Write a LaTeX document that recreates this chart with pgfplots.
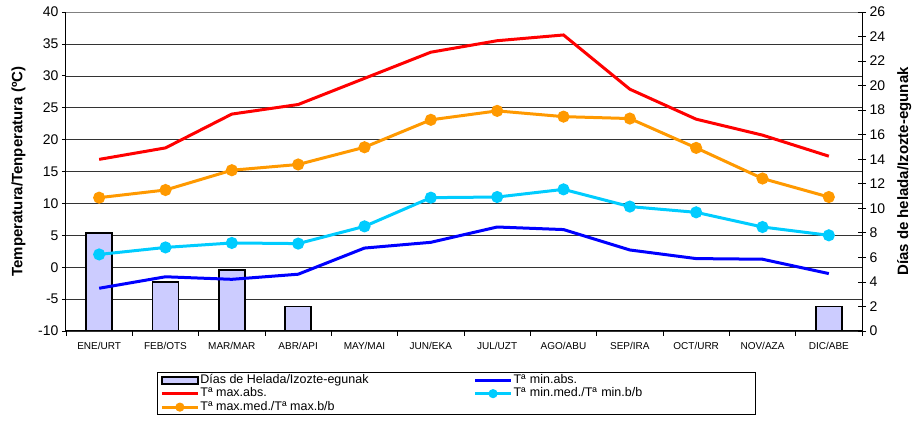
\documentclass[border=0pt]{standalone}
\usepackage{fontspec}
\setmainfont{Liberation Sans}
\usepackage{pgfplots}
\pgfplotsset{compat=1.18}

\definecolor{barfill}{HTML}{CCCCFF}
\definecolor{cmaxabs}{HTML}{FF0000}
\definecolor{cmaxmed}{HTML}{FF9900}
\definecolor{cminmed}{HTML}{00CCFF}
\definecolor{cminabs}{HTML}{0000FF}

\begin{document}
\begin{tikzpicture}
\useasboundingbox (-66pt,-92pt) rectangle (848pt,331pt);
\pgfplotsset{
  base/.style={
    scale only axis, width=796pt, height=319pt,
    at={(0,0)}, anchor=south west,
    xmin=-0.5, xmax=11.5,
    /pgf/number format/assume math mode=true,
    axis line style={-, line width=1pt},
    tick style={black, line width=0.8pt},
    tick label style={font=\fontsize{14}{15}\selectfont},
    label style={font=\bfseries\fontsize{15}{16}\selectfont},
  },
  lin/.style={line width=3pt, mark=*, mark size=4.5pt, mark options={solid}},
}

% grid, left axis, month labels
\begin{axis}[base,
  ymin=-10, ymax=40, ytick={-10,-5,...,40},
  axis y line*=left, axis x line*=bottom,
  ymajorgrids, grid style={black!80, line width=0.6pt},
  tick align=outside, major tick length=4pt,
  xtick={0,...,11},
  xticklabels={ENE/URT,FEB/OTS,MAR/MAR,ABR/API,MAY/MAI,JUN/EKA,JUL/UZT,AGO/ABU,SEP/IRA,OCT/URR,NOV/AZA,DIC/ABE},
  x tick label style={font=\fontsize{10}{11}\selectfont, yshift=-4pt},
  major x tick style={draw=none},
  minor xtick={-0.5,0.5,...,11.5}, minor tick length=5pt,
  ylabel={Temperatura/Tenperatura (ºC)},
  y label style={at={(axis description cs:-0.0597,0.5)}, anchor=center},
]
\addplot[draw=none] coordinates {(0,0)};
\draw[gray, line width=1pt] (rel axis cs:0,1) -- (rel axis cs:1,1);
\end{axis}

% frost days, right axis
\begin{axis}[base,
  ymin=0, ymax=26, ytick={0,2,...,26},
  axis y line*=right, axis x line=none,
  tick align=center, major tick length=8pt,
  ylabel={Días de helada/Izozte-egunak},
  y label style={at={(axis description cs:1.053,0.5)}, anchor=center},
]
\addplot[ybar, bar width=26pt, fill=barfill, draw=black, line width=1.8pt,
  y filter/.expression={y==0 ? nan : y}]
coordinates {(0,8) (1,4) (2,5) (3,2) (4,0) (5,0) (6,0) (7,0) (8,0) (9,0) (10,0) (11,2)};
\end{axis}

% temperatures
\begin{axis}[base,
  ymin=-10, ymax=40, hide axis,
  legend columns=2,
  legend cell align=left,
  legend style={at={(axis description cs:0.1143,-0.1285)}, anchor=north west,
    draw=black, line width=0.8pt, font=\fontsize{12.5}{13}\selectfont,
    inner xsep=3pt, inner ysep=1pt,
    nodes={inner sep=1pt, text height=9pt, text depth=2.5pt},
    /tikz/column 2/.style={column sep=104pt},
    /tikz/column 4/.style={nodes={text width=238pt}}},
  legend image code/.code={\draw[mark repeat=2, mark phase=2, #1, mark size=3pt]
    plot coordinates {(0pt,0pt) (18pt,0pt) (36pt,0pt)};},
]
\addlegendimage{legend image code/.code={\draw[fill=barfill, draw=black, line width=1.8pt] (0pt,-3.5pt) rectangle (36pt,3.5pt);}}
\addlegendentry{Días de Helada/Izozte-egunak}
\addplot[lin, cminabs, mark=none] coordinates {
  (0,-3.3) (1,-1.5) (2,-1.9) (3,-1.1) (4,3.0) (5,3.9) (6,6.3) (7,5.9) (8,2.7) (9,1.35) (10,1.25) (11,-1.0)};
\addlegendentry{Tª min.abs.}
\addplot[lin, cmaxabs, mark=none] coordinates {
  (0,16.9) (1,18.7) (2,24.0) (3,25.5) (4,29.6) (5,33.7) (6,35.5) (7,36.4) (8,27.9) (9,23.2) (10,20.7) (11,17.4)};
\addlegendentry{Tª max.abs.}
\addplot[lin, cminmed] coordinates {
  (0,2.0) (1,3.1) (2,3.8) (3,3.7) (4,6.4) (5,10.9) (6,11.0) (7,12.2) (8,9.5) (9,8.6) (10,6.3) (11,5.0)};
\addlegendentry{Tª min.med./Tª min.b/b}
\addplot[lin, cmaxmed] coordinates {
  (0,10.9) (1,12.1) (2,15.2) (3,16.1) (4,18.8) (5,23.1) (6,24.5) (7,23.6) (8,23.3) (9,18.7) (10,13.9) (11,11.0)};
\addlegendentry{Tª max.med./Tª max.b/b}
\end{axis}
\end{tikzpicture}
\end{document}
